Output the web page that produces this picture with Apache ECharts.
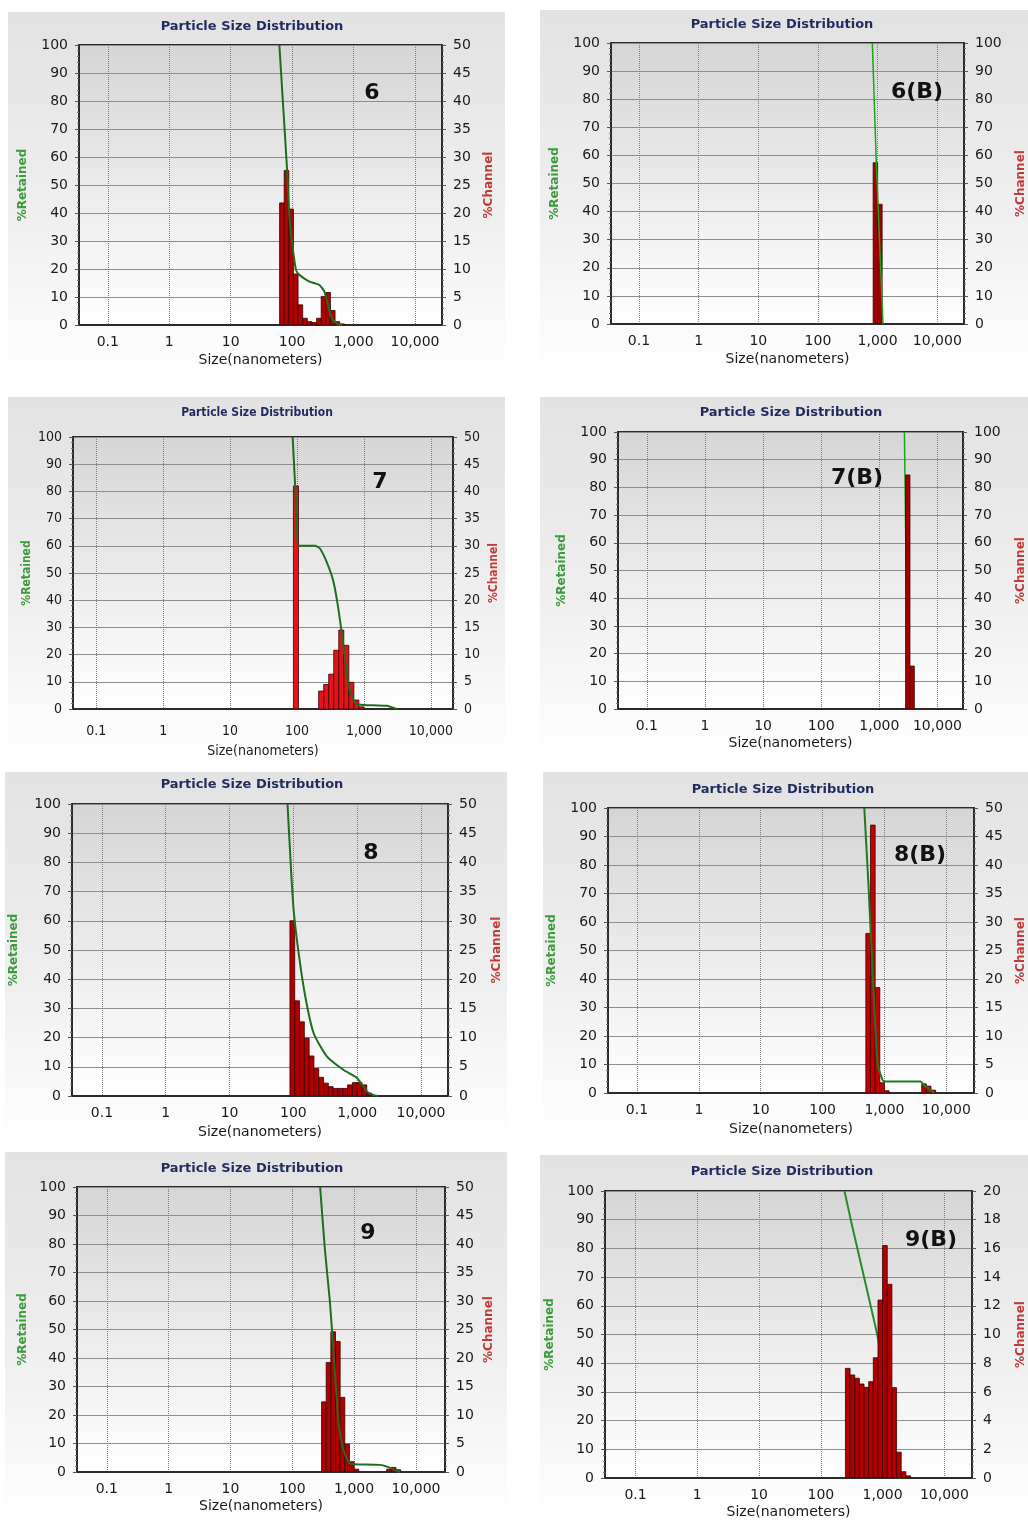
<!DOCTYPE html>
<html>
<head>
<meta charset="utf-8">
<script src="https://cdn.jsdelivr.net/npm/echarts@6/dist/echarts.min.js"></script>
<style>
html,body{margin:0;padding:0;background:#ffffff;}
#chart{width:1028px;height:1520px;}
</style>
</head>
<body>
<div id="chart"></div>
<script>
// ---------------- DATA ----------------
const X_TICK_LABELS = ['0.1', '1', '10', '100', '1,000', '10,000'];
const PANEL_LABELS = ['6', '6(B)', '7', '7(B)', '8', '8(B)', '9', '9(B)'];
const CHART_TITLE = 'Particle Size Distribution';
const X_NAME = 'Size(nanometers)';
const LEFT_NAME = '%Retained';
const RIGHT_NAME = '%Channel';
// channel upper edges (nm); each channel spans [edge / CHANNEL_RATIO, edge]
const CHANNEL_RATIO = Math.pow(2, 0.25);

// Sample 6
const s6Size      = [74.33, 88.39, 105.1, 125, 148.7, 176.8, 210.2, 250, 297.3, 353.6, 420.4, 500, 594.6, 707.1];
const s6Channel   = [21.8, 27.6, 20.7, 9.1, 3.6, 1.2, 0.6, 0.45, 1.2, 5.1, 5.8, 2.6, 0.6, 0.2];
const s6RetSize   = [62, 72, 83, 90, 103, 116, 131, 191, 278, 335, 380, 431, 488, 554, 650];
const s6Retained  = [100, 77, 55, 39, 27, 19.6, 17.9, 15.5, 14.3, 11.9, 7.7, 3, 1.2, 0.3, 0];
// Sample 6(B)
const s6bSize     = [1000, 1189.2];
const s6bChannel  = [57.4, 42.6];
const s6bRetSize  = [815, 950, 1230];
const s6bRetained = [100, 57, 0];
// Sample 7
const s7Size      = [105.1, 250, 297.3, 353.6, 420.4, 500, 594.6, 707.1, 840.9, 1000];
const s7Channel   = [41, 3.3, 4.5, 6.4, 10.8, 14.5, 11.7, 4.9, 1.65, 0.4];
const s7RetSize   = [86, 97, 104, 186, 220, 278, 349, 414, 492, 585, 736, 1000, 2200, 3100];
const s7Retained  = [100, 75, 60, 60, 59, 54, 47, 37, 23.5, 8.8, 2.1, 1.5, 1.2, 0];
// Sample 7(B)
const s7bSize     = [3363.6, 4000];
const s7bChannel  = [84.5, 15.5];
const s7bRetSize  = [2700, 2850, 3100, 3700];
const s7bRetained = [100, 60, 16, 0];
// Sample 8
const s8Size      = [105.1, 125, 148.7, 176.8, 210.2, 250, 297.3, 353.6, 420.4, 500, 594.6, 707.1, 840.9, 1000, 1189, 1414, 1682];
const s8Channel   = [30, 16.3, 12.7, 9.9, 6.85, 4.7, 3.2, 2.2, 1.6, 1.3, 1.3, 1.3, 1.9, 2.3, 2.3, 1.9, 0.5];
const s8RetSize   = [81, 92, 101, 121, 154, 208, 337, 614, 1000, 1430, 1810, 2100];
const s8Retained  = [100, 77.4, 63.7, 48.9, 34, 21.5, 13.5, 8.9, 6.1, 1.5, 0.3, 0];
// Sample 8(B)
const s8bSize     = [594.6, 707.1, 840.9, 1000, 1189, 4757, 5657, 6727];
const s8bChannel  = [28, 47, 18.5, 1.8, 0.4, 1.6, 1.2, 0.5];
const s8bRetSize  = [472, 553, 641, 772, 929, 1000, 3800, 4500, 5500, 6300];
const s8bRetained = [100, 72.4, 43.2, 10.4, 4.6, 4, 4, 2.5, 1, 0];
// Sample 9
const s9Size      = [353.6, 420.4, 500, 594.6, 707.1, 840.9, 1000, 1189, 4000, 4757, 5657];
const s9Channel   = [12.3, 19.2, 24.6, 22.9, 13.1, 4.9, 1.8, 0.5, 0.5, 0.8, 0.4];
const s9RetSize   = [282, 337, 405, 462, 552, 664, 852, 1000, 2600, 3500, 4500, 5500];
const s9Retained  = [100, 78, 60, 43, 19, 8, 3, 2.7, 2.5, 1.8, 0.8, 0];
// Sample 9(B)
const s9bSize     = [297.3, 353.6, 420.4, 500, 594.6, 707.1, 840.9, 1000, 1189, 1414, 1682, 2000, 2378, 2828];
const s9bChannel  = [7.64, 7.18, 6.95, 6.55, 6.32, 6.71, 8.38, 12.4, 16.2, 13.5, 6.3, 1.8, 0.44, 0.15];
const s9bRetSize  = [241, 320, 420, 500, 595, 707, 853, 1000, 1189, 1290, 1414, 1682, 2000];
const s9bRetained = [100, 88, 77, 70, 63, 56, 48, 36, 16, 5, 2, 0.5, 0];

const PANEL_DATA = [
  { size: s6Size,  ch: s6Channel,  retSize: s6RetSize,  ret: s6Retained },
  { size: s6bSize, ch: s6bChannel, retSize: s6bRetSize, ret: s6bRetained },
  { size: s7Size,  ch: s7Channel,  retSize: s7RetSize,  ret: s7Retained },
  { size: s7bSize, ch: s7bChannel, retSize: s7bRetSize, ret: s7bRetained },
  { size: s8Size,  ch: s8Channel,  retSize: s8RetSize,  ret: s8Retained },
  { size: s8bSize, ch: s8bChannel, retSize: s8bRetSize, ret: s8bRetained },
  { size: s9Size,  ch: s9Channel,  retSize: s9RetSize,  ret: s9Retained },
  { size: s9bSize, ch: s9bChannel, retSize: s9bRetSize, ret: s9bRetained }
];

// ---------------- LAYOUT / STYLE ----------------
const BASE_FONT = '"DejaVu Sans", Verdana, sans-serif';
const NARROW_FONT = '"Liberation Sans Narrow", "DejaVu Sans Condensed", "Liberation Sans", sans-serif';
const LAYOUT = [
  { grid: [79, 45, 363, 280],   x: [0.034, 27500], chMax: 50,  chInt: 5,  title: [252, 27],   tag: [372, 93],   bg: [8, 12, 497, 366],    xm: 10, xg: 28, rg: 41, lg: 50, font: BASE_FONT, ts: 13, bar: '#b00000', line: '#1f6e1f', lw: 2, sm: 0.2, lineTop: true },
  { grid: [611, 43, 353, 281],  x: [0.034, 28000], chMax: 100, chInt: 10, title: [782, 25],   tag: [917, 92],   bg: [540, 10, 488, 364],  xm: 10, xg: 28, rg: 51, lg: 50, font: BASE_FONT, ts: 13, bar: '#a00000', line: '#1aa51a', lw: 1.5, sm: 0, lineTop: true },
  { grid: [73, 437, 380, 272],  x: [0.045, 21400], chMax: 50,  chInt: 5,  title: [257, 413],  tag: [380, 482],  bg: [8, 397, 497, 368],   xm: 15, xg: 35, rg: 35, lg: 40, font: NARROW_FONT, ts: 12, bar: '#e3121b', line: '#1f6e1f', lw: 2, sm: 0.15, lineTop: true },
  { grid: [618, 432, 353, 277], x: [0.032, 27500], chMax: 100, chInt: 10, title: [791, 413],  tag: [857, 478],  bg: [540, 397, 488, 363], xm: 10, xg: 27, rg: 52, lg: 50, font: BASE_FONT, ts: 13, bar: '#a00000', line: '#1aa51a', lw: 1.5, sm: 0, lineTop: false },
  { grid: [72, 804, 376, 292],  x: [0.034, 26500], chMax: 50,  chInt: 5,  title: [252, 785],  tag: [371, 853],  bg: [5, 772, 502, 373],   xm: 10, xg: 29, rg: 43, lg: 52, font: BASE_FONT, ts: 13, bar: '#b00000', line: '#1f6e1f', lw: 2, sm: 0.2, lineTop: true },
  { grid: [608, 808, 368, 285], x: [0.034, 28000], chMax: 50,  chInt: 5,  title: [783, 790],  tag: [920, 855],  bg: [543, 772, 485, 368], xm: 10, xg: 29, rg: 41, lg: 50, font: BASE_FONT, ts: 13, bar: '#c40000', line: '#1f7a1f', lw: 2, sm: 0.15, lineTop: true },
  { grid: [77, 1187, 368, 285], x: [0.033, 29500], chMax: 50,  chInt: 5,  title: [252, 1169], tag: [368, 1233], bg: [5, 1152, 502, 368],  xm: 10, xg: 27, rg: 38, lg: 48, font: BASE_FONT, ts: 13, bar: '#b00000', line: '#1f6e1f', lw: 2, sm: 0.2, lineTop: true },
  { grid: [605, 1191, 372, 287],x: [0.032, 28000], chMax: 20,  chInt: 2,  title: [782, 1172], tag: [931, 1240], bg: [540, 1155, 488, 365], xm: 10, xg: 27, rg: 43, lg: 49, font: BASE_FONT, ts: 13, bar: '#b00000', line: '#2a8a2a', lw: 2, sm: 0.1, lineTop: false }
];

function xLabel(v) {
  const e = Math.log10(v);
  const r = Math.round(e);
  if (Math.abs(e - r) > 1e-6) return '';
  const s = X_TICK_LABELS[r + 1];
  return s === undefined ? '' : s;
}

function makeBarRenderer(fill) {
  return function (params, api) {
    const upper = api.value(0);
    const v = api.value(1);
    const lower = upper / CHANNEL_RATIO;
    const p0 = api.coord([lower, 0]);
    const p1 = api.coord([upper, v]);
    const cs = params.coordSys;
    const shape = echarts.graphic.clipRectByRect(
      { x: p0[0], y: p1[1], width: p1[0] - p0[0], height: p0[1] - p1[1] },
      { x: cs.x, y: cs.y, width: cs.width, height: cs.height }
    );
    if (!shape) return null;
    return {
      type: 'rect',
      shape: shape,
      style: { fill: fill, stroke: '#3a0000', lineWidth: 0.8 }
    };
  };
}

const grids = [], xAxes = [], yAxes = [], series = [], graphics = [];

LAYOUT.forEach(function (L, i) {
  const D = PANEL_DATA[i];
  graphics.push({
    type: 'rect', z: -100,
    shape: { x: L.bg[0], y: L.bg[1], width: L.bg[2], height: L.bg[3] },
    style: {
      fill: new echarts.graphic.LinearGradient(0, 0, 0, 1, [
        { offset: 0, color: '#e2e2e2' },
        { offset: 0.55, color: '#efefef' },
        { offset: 1, color: '#ffffff' }
      ])
    }
  });
  graphics.push({
    type: 'text', x: L.title[0], y: L.title[1],
    style: { text: CHART_TITLE, fill: '#1f2b5e', font: 'bold ' + L.ts + 'px ' + L.font, align: 'center', verticalAlign: 'middle' }
  });
  graphics.push({
    type: 'text', x: L.tag[0], y: L.tag[1], z: 50,
    style: { text: PANEL_LABELS[i], fill: '#111111', font: 'bold 22px "DejaVu Sans", sans-serif', align: 'center', verticalAlign: 'middle' }
  });

  grids.push({
    left: L.grid[0], top: L.grid[1], width: L.grid[2], height: L.grid[3],
    show: true, borderColor: '#2b2b2b', borderWidth: 2,
    backgroundColor: new echarts.graphic.LinearGradient(0, 0, 0, 1, [
      { offset: 0, color: '#d5d5d5' },
      { offset: 0.6, color: '#efefef' },
      { offset: 1, color: '#ffffff' }
    ])
  });

  xAxes.push({
    type: 'log', logBase: 10, gridIndex: i, min: L.x[0], max: L.x[1],
    axisLine: { show: true, onZero: false, lineStyle: { color: '#2b2b2b', width: 2 } },
    axisTick: { show: false },
    axisLabel: { formatter: xLabel, fontSize: 14, fontFamily: L.font, color: '#1a1a1a', margin: L.xm, showMinLabel: false, showMaxLabel: false },
    splitLine: { show: true, lineStyle: { color: '#7d7d7d', type: 'dotted', width: 1 } },
    name: X_NAME, nameLocation: 'middle', nameGap: L.xg,
    nameTextStyle: { fontSize: 14, fontFamily: L.font, color: '#1a1a1a' }
  });

  yAxes.push({
    type: 'value', gridIndex: i, position: 'left', min: 0, max: 100, interval: 10,
    axisLine: { show: true, lineStyle: { color: '#2b2b2b', width: 2 } },
    axisTick: { show: true, length: 4, lineStyle: { color: '#555' } },
    minorTick: { show: true, splitNumber: 5, length: 2, lineStyle: { color: '#777' } },
    axisLabel: { fontSize: 14, fontFamily: L.font, color: '#1a1a1a', margin: 11 },
    splitLine: { show: true, lineStyle: { color: '#8e8e8e', width: 1 } },
    name: LEFT_NAME, nameLocation: 'middle', nameGap: L.lg,
    nameTextStyle: { fontSize: 12, fontWeight: 'bold', fontFamily: L.font, color: '#3d9a3d' }
  });
  yAxes.push({
    type: 'value', gridIndex: i, position: 'right', min: 0, max: L.chMax, interval: L.chInt,
    axisLine: { show: true, lineStyle: { color: '#2b2b2b', width: 2 } },
    axisTick: { show: true, length: 4, lineStyle: { color: '#555' } },
    minorTick: { show: true, splitNumber: 5, length: 2, lineStyle: { color: '#777' } },
    axisLabel: { fontSize: 14, fontFamily: L.font, color: '#1a1a1a', margin: 11 },
    splitLine: { show: false },
    name: RIGHT_NAME, nameLocation: 'middle', nameGap: L.rg, nameRotate: 90,
    nameTextStyle: { fontSize: 12, fontWeight: 'bold', fontFamily: L.font, color: '#c23b3b' }
  });

  series.push({
    type: 'custom', name: 'channel' + i, xAxisIndex: i, yAxisIndex: 2 * i + 1,
    renderItem: makeBarRenderer(L.bar), clip: true,
    encode: { x: 0, y: 1 },
    z: L.lineTop ? 3 : 5,
    data: D.size.map(function (s, k) { return [s, D.ch[k]]; })
  });
  series.push({
    type: 'line', name: 'retained' + i, xAxisIndex: i, yAxisIndex: 2 * i,
    showSymbol: false, symbol: 'none', smooth: L.sm, clip: true,
    z: L.lineTop ? 5 : 3,
    lineStyle: { color: L.line, width: L.lw },
    data: D.retSize.map(function (s, k) { return [s, D.ret[k]]; })
  });
});

const chart = echarts.init(document.getElementById('chart'), null, { renderer: 'canvas' });
chart.setOption({
  animation: false,
  backgroundColor: '#ffffff',
  graphic: { elements: graphics },
  grid: grids,
  xAxis: xAxes,
  yAxis: yAxes,
  series: series
});
</script>
</body>
</html>
